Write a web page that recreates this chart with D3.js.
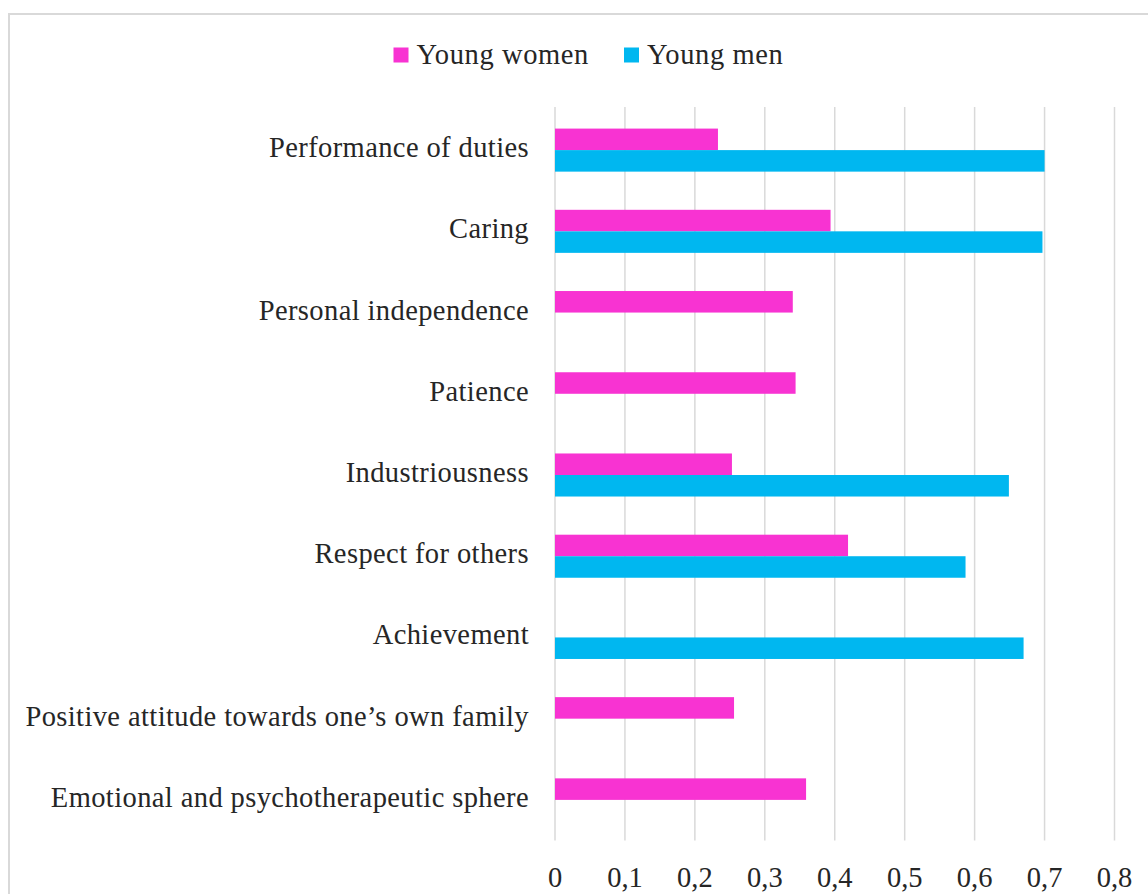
<!DOCTYPE html>
<html>
<head>
<meta charset="utf-8">
<script src="https://cdn.jsdelivr.net/npm/d3@7"></script>
<style>
  body { margin: 0; background: #fff; }
  text { font-family: 'Liberation Serif', 'Times New Roman', serif; fill: #262626; }
</style>
</head>
<body>
<div id="container"></div>
<script>
const width = 1148
const height = 894

const categories = [
  'Performance of duties',
  'Caring',
  'Personal independence',
  'Patience',
  'Industriousness',
  'Respect for others',
  'Achievement',
  'Positive attitude towards one\u2019s own family',
  'Emotional and psychotherapeutic sphere'
]
const seriesNames = ['Young women', 'Young men']
const womenValues = [0.233, 0.394, 0.34, 0.344, 0.253, 0.419, null, 0.256, 0.359]
const menValues = [0.70, 0.697, null, null, 0.649, 0.587, 0.67, null, null]
const tickValues = [0, 0.1, 0.2, 0.3, 0.4, 0.5, 0.6, 0.7, 0.8]

const colors = ['#f833d2', '#00b7f0']
const fontSize = 28.5

const svg = d3.select('#container')
  .append('svg')
  .attr('width', width)
  .attr('height', height)

// chart area border (runs off the right and bottom edge)
svg.append('rect')
  .attr('x', 9)
  .attr('y', 14)
  .attr('width', 1160)
  .attr('height', 920)
  .attr('fill', 'none')
  .attr('stroke', '#d9d9d9')
  .attr('stroke-width', 2)

const x = d3.scaleLinear()
  .domain([0, 0.8])
  .range([555, 1114.5])

const y = d3.scaleBand()
  .domain(categories)
  .range([109.5, 840.5])
  .paddingInner(0.47)
  .paddingOuter(0.235)

const sub = d3.scaleBand()
  .domain(seriesNames)
  .range([0, y.bandwidth()])

const locale = d3.formatLocale({ decimal: ',', thousands: ' ', grouping: [3], currency: ['', ''] })
const fmt = v => v === 0 ? '0' : locale.format('.1f')(v)

// gridlines
svg.append('g')
  .selectAll('line')
  .data(tickValues)
  .enter()
  .append('line')
  .attr('x1', d => x(d))
  .attr('x2', d => x(d))
  .attr('y1', 107)
  .attr('y2', 840.5)
  .attr('stroke', '#d9d9d9')
  .attr('stroke-width', 1.5)

// x tick labels
svg.append('g')
  .selectAll('text')
  .data(tickValues)
  .enter()
  .append('text')
  .attr('x', d => x(d))
  .attr('y', 887)
  .attr('text-anchor', 'middle')
  .style('font-size', fontSize + 'px')
  .text(d => fmt(d))

// bars
const rows = categories.map((c, i) => ({ cat: c, vals: [womenValues[i], menValues[i]] }))

const groups = svg.selectAll('g.row')
  .data(rows)
  .enter()
  .append('g')
  .attr('class', 'row')
  .attr('transform', d => `translate(0,${y(d.cat)})`)

groups.selectAll('rect')
  .data(d => d.vals.map((v, j) => ({ v, s: seriesNames[j], j })).filter(e => e.v !== null))
  .enter()
  .append('rect')
  .attr('x', x(0))
  .attr('y', d => sub(d.s))
  .attr('width', d => x(d.v) - x(0))
  .attr('height', sub.bandwidth())
  .attr('fill', d => colors[d.j])

// category labels
svg.append('g')
  .selectAll('text')
  .data(categories)
  .enter()
  .append('text')
  .attr('x', 529)
  .attr('y', d => y(d) + y.bandwidth() / 2 + 7)
  .attr('text-anchor', 'end')
  .style('font-size', fontSize + 'px')
  .style('letter-spacing', '0.4px')
  .text(d => d)

// legend
const legendX = [393.5, 624]
const legend = svg.append('g')
  .selectAll('g')
  .data(seriesNames)
  .enter()
  .append('g')
  .attr('transform', (d, i) => `translate(${legendX[i]},0)`)

legend.append('rect')
  .attr('x', 0)
  .attr('y', 47.5)
  .attr('width', 15)
  .attr('height', 15)
  .attr('fill', (d, i) => colors[i])

legend.append('text')
  .attr('x', 23)
  .attr('y', 63.5)
  .style('font-size', fontSize + 'px')
  .style('letter-spacing', '0.6px')
  .text(d => d)
</script>
</body>
</html>
